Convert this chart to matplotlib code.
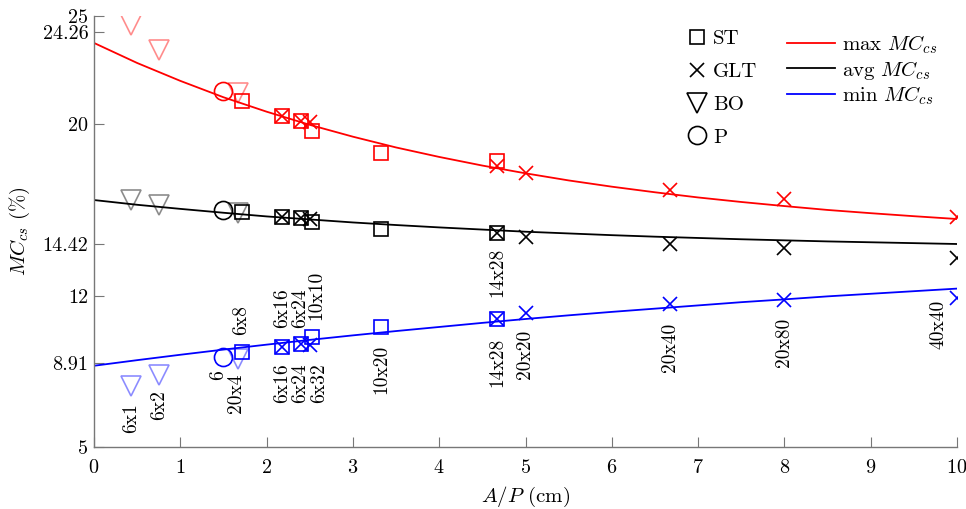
import matplotlib
matplotlib.use("Agg")
import matplotlib.pyplot as plt
from matplotlib.lines import Line2D

plt.rcParams['font.family'] = ['cmr10', 'DejaVu Serif']
plt.rcParams['mathtext.fontset'] = 'cm'
plt.rcParams['axes.unicode_minus'] = False
plt.rcParams['axes.formatter.use_mathtext'] = True

# solid timber (ST)
st_labels = ['6x8', '6x16', '6x24', '6x32', '10x20', '14x28']
st_ap = [1.71, 2.18, 2.40, 2.53, 3.33, 4.67]
st_max = [21.07, 20.37, 20.14, 19.68, 18.63, 18.29]
st_avg = [15.89, 15.69, 15.61, 15.45, 15.12, 14.92]
st_min = [9.39, 9.65, 9.77, 10.09, 10.58, 10.94]

# glulam (GLT)
glt_labels = ['6x16', '6x24', '10x10', '14x28', '20x20', '20x40', '20x80', '40x40']
glt_ap = [2.18, 2.40, 2.50, 4.67, 5.00, 6.67, 8.00, 10.00]
glt_max = [20.37, 20.14, 20.10, 18.04, 17.70, 16.93, 16.51, 15.66]
glt_avg = [15.69, 15.61, 15.57, 14.92, 14.73, 14.42, 14.22, 13.76]
glt_min = [9.65, 9.77, 9.75, 10.94, 11.23, 11.62, 11.82, 11.93]

# BO
bo_labels = ['6x1', '6x2', '20x4']
bo_ap = [0.43, 0.75, 1.67]
bo_max = [24.58, 23.42, 21.45]
bo_avg = [16.46, 16.21, 15.86]
bo_min = [7.81, 8.34, 9.08]

# P (round)
p_labels = ['6']
p_ap = [1.50]
p_max = [21.53]
p_avg = [16.00]
p_min = [9.16]

# fitted curves
fit_ap = [0, 0.5, 1, 1.5, 2, 2.5, 3, 3.5, 4, 4.5, 5,
          5.5, 6, 6.5, 7, 7.5, 8, 8.5, 9, 9.5, 10]
fit_max = [23.75, 22.82, 21.99, 21.23, 20.56, 19.95, 19.40, 18.90, 18.46, 18.06, 17.70,
           17.37, 17.08, 16.82, 16.58, 16.37, 16.18, 16.00, 15.85, 15.71, 15.58]
fit_avg = [16.46, 16.24, 16.05, 15.87, 15.70, 15.56, 15.42, 15.30, 15.19, 15.09, 14.99,
           14.91, 14.83, 14.76, 14.70, 14.64, 14.59, 14.54, 14.50, 14.46, 14.42]
fit_min = [8.77, 9.03, 9.28, 9.52, 9.75, 9.97, 10.18, 10.38, 10.57, 10.76, 10.94,
           11.11, 11.27, 11.42, 11.57, 11.72, 11.85, 11.99, 12.11, 12.23, 12.35]

yticks = [5, 8.91, 12, 14.42, 20, 24.26, 25]
ytick_labels = ['5', '8.91', '12', '14.42', '20', '24.26', '25']

# specimen labels: (text, x, y, vertical anchor)
annots = [
    ('6x1', 0.43, 7.04, 'top'),
    ('6x2', 0.75, 7.65, 'top'),
    ('6', 1.44, 8.57, 'top'),
    ('20x4', 1.65, 8.43, 'top'),
    ('6x8', 1.70, 10.20, 'bottom'),
    ('6x16', 2.18, 10.50, 'bottom'),
    ('6x24', 2.39, 10.50, 'bottom'),
    ('10x10', 2.58, 10.89, 'bottom'),
    ('6x16', 2.18, 8.90, 'top'),
    ('6x24', 2.39, 8.90, 'top'),
    ('6x32', 2.61, 8.90, 'top'),
    ('10x20', 3.33, 9.73, 'top'),
    ('14x28', 4.67, 11.96, 'bottom'),
    ('14x28', 4.67, 10.06, 'top'),
    ('20x20', 5.00, 10.43, 'top'),
    ('20x40', 6.67, 10.75, 'top'),
    ('20x80', 8.00, 10.99, 'top'),
    ('40x40', 9.79, 11.82, 'top'),
]

colors = {'max': '#ff0000', 'avg': 'black', 'min': '#0000ff'}

fig = plt.figure(figsize=(9.66, 5.09), dpi=100)
ax = fig.add_axes([94/966, 1 - 447/509, 863/966, 431/509])

ax.plot(fit_ap, fit_max, color=colors['max'], lw=1.3, zorder=2)
ax.plot(fit_ap, fit_avg, color=colors['avg'], lw=1.3, zorder=2)
ax.plot(fit_ap, fit_min, color=colors['min'], lw=1.3, zorder=2)

groups = [('max', st_max, glt_max, bo_max, p_max),
          ('avg', st_avg, glt_avg, bo_avg, p_avg),
          ('min', st_min, glt_min, bo_min, p_min)]
for key, s, g, b, p in groups:
    c = colors[key]
    ax.plot(st_ap, s, ls='none', marker='s', ms=10, mfc='none', mec=c, mew=1.2, zorder=3)
    ax.plot(glt_ap, g, ls='none', marker='x', ms=10, mec=c, mew=1.2, zorder=3)
    ax.plot(p_ap, p, ls='none', marker='o', ms=13, mfc='none', mec=c, mew=1.2, zorder=3)
    ax.plot(bo_ap, b, ls='none', marker='v', ms=14, mfc='none', mec=c, mew=1.2,
            alpha=0.45, zorder=4)

for txt, x, y, va in annots:
    ax.text(x, y, txt, rotation=90, ha='center', va=va, fontsize=14)

ax.set_xlim(0, 10)
ax.set_ylim(5, 25)
ax.set_xticks(range(11))
ax.set_yticks(yticks)
ax.set_yticklabels(ytick_labels)
ax.tick_params(direction='in', length=7, color='#777777', labelsize=14.5)
ax.tick_params(axis='x', pad=8.5)
ax.tick_params(axis='y', pad=4)
for side in ['top', 'right']:
    ax.spines[side].set_visible(False)
for side in ['left', 'bottom']:
    ax.spines[side].set_color('#777777')
    ax.spines[side].set_linewidth(1.0)

ax.set_xlabel('$A/P$ (cm)', fontsize=15, labelpad=6)
ax.set_ylabel('$MC_{cs}$ (%)', fontsize=15, labelpad=8)

mk_handles = [
    Line2D([], [], ls='none', marker='s', ms=10, mfc='none', mec='k', mew=1.2),
    Line2D([], [], ls='none', marker='x', ms=10, mec='k', mew=1.2),
    Line2D([], [], ls='none', marker='v', ms=14, mfc='none', mec='k', mew=1.2),
    Line2D([], [], ls='none', marker='o', ms=13, mfc='none', mec='k', mew=1.2),
]
leg1 = ax.legend(mk_handles, ['ST', 'GLT', 'BO', 'P'], loc='upper left',
                 bbox_to_anchor=(0.687, 0.968), frameon=False, fontsize=15,
                 handlelength=1.0, handletextpad=0.27, labelspacing=0.68,
                 borderpad=0, borderaxespad=0)
ax.add_artist(leg1)

ln_handles = [Line2D([], [], color=colors[k], lw=1.3) for k in ['max', 'avg', 'min']]
ax.legend(ln_handles, ['max $MC_{cs}$', 'avg $MC_{cs}$', 'min $MC_{cs}$'],
          loc='upper left', bbox_to_anchor=(0.803, 0.9606), frameon=False, fontsize=15,
          handlelength=2.3, handletextpad=0.35, labelspacing=0.15,
          borderpad=0, borderaxespad=0)

fig.savefig('out.png', dpi=100)
